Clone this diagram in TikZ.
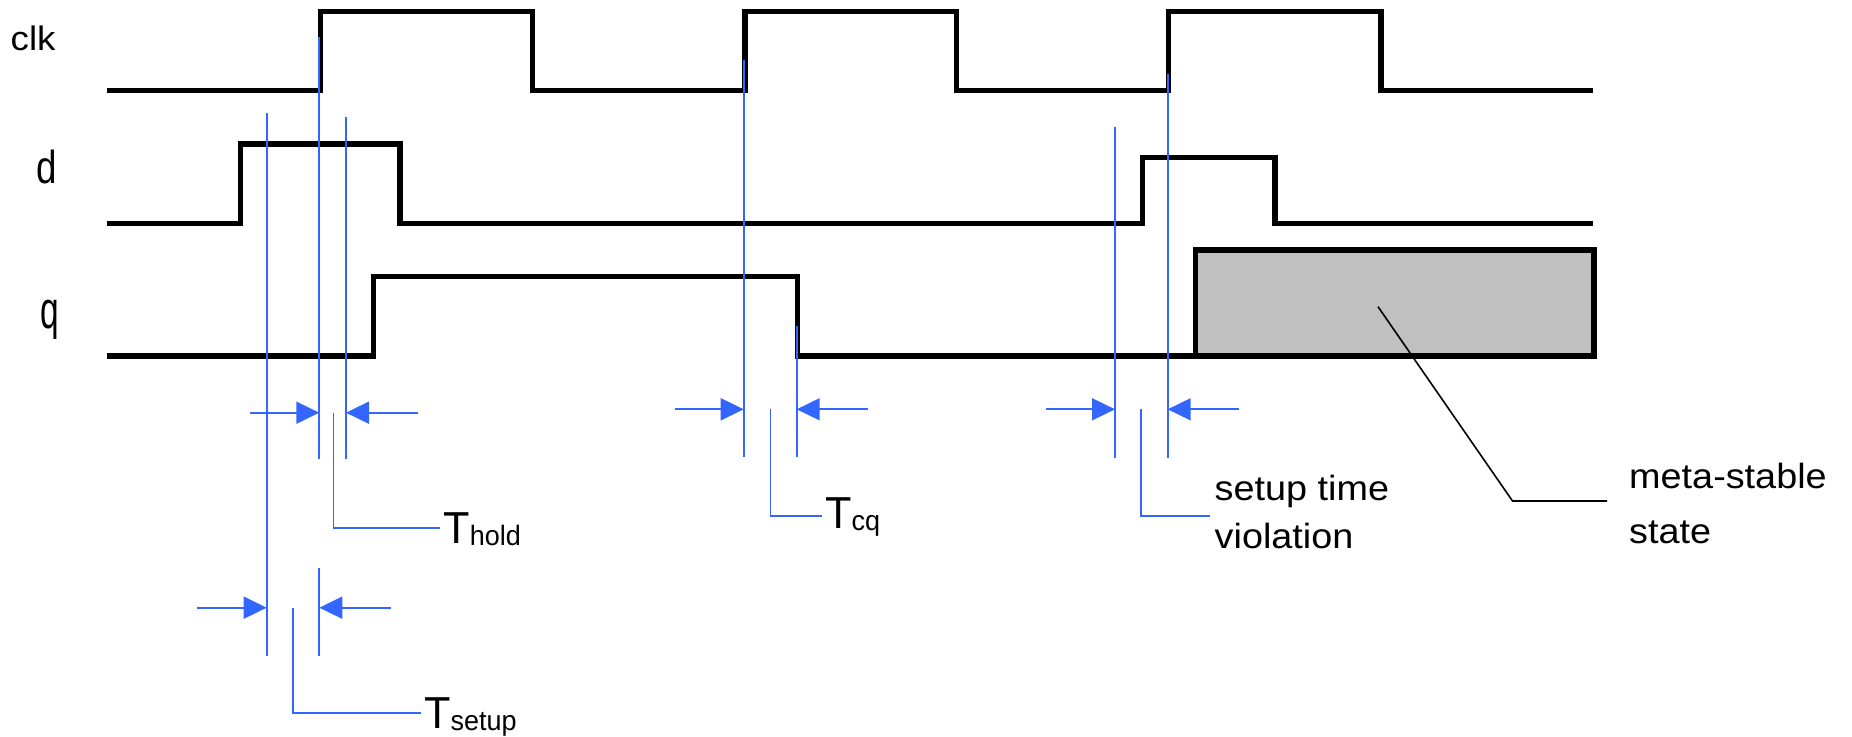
\documentclass[tikz,border=0pt]{standalone}
\usepackage{fontspec}
\setmainfont{Liberation Sans}[FakeStretch=1.08]
\usepackage{graphicx}
\usetikzlibrary{arrows.meta}
\definecolor{dimblue}{HTML}{3366FF}
\definecolor{metagray}{HTML}{C0C0C0}
\tikzset{
  sig/.style={line width=5.5pt, line join=miter, black},
  guide/.style={line width=1.8pt, dimblue},
  dimarrow/.style={guide, -{Triangle[length=23pt,width=22pt]}},
  lbl/.style={inner sep=0pt, anchor=base west, font=\fontsize{34}{34}\selectfont},
  note/.style={inner sep=0pt, anchor=base west, align=left, font=\fontsize{35}{48}\selectfont},
}
\newcommand{\tlabel}[1]{\scalebox{1}[1.12]{\fontsize{40}{40}\selectfont T\raisebox{-2pt}{\fontsize{25}{25}\selectfont #1}}}
\begin{document}
\begin{tikzpicture}[x=1pt,y=-1pt]
\useasboundingbox (0,0) rectangle (1852,736);
% signal names
\node[lbl] (clk) at (10.5,50.7) {clk};
\node[lbl] (d) at (36,183.3) {\scalebox{1}[1.36]{d}};
\node[lbl, font=\fontsize{31}{31}\selectfont] (q) at (40,328.3) {\scalebox{1}[1.7]{q}};
% waveforms
\draw[sig] (107,90.7) -| (320.7,11.7) -| (532.7,90.7) -| (745,11.7) -| (956.7,90.7) -| (1168.5,11.7) -| (1381,90.7) -- (1593,90.7);
\draw[sig] (107,223.3) -| (240.7,144) -| (400,223.3) -| (1142.5,157.3) -| (1275,223.3) -- (1593,223.3);
\draw[sig, fill=metagray] (1195.7,356) rectangle (1594,250);
\draw[sig] (107,356) -| (373.3,276.7) -| (797.3,356) -- (1594,356);
% guide lines
\draw[guide] (266.7,113.3) -- (266.7,656);
\draw[guide] (319.3,37.3) -- (319.3,459.3);
\draw[guide] (346,116.7) -- (346,459.3);
\draw[guide] (319.3,568.3) -- (319.3,656);
\draw[guide] (743.7,60) -- (743.7,457.3);
\draw[guide] (796.7,326) -- (796.7,457.3);
\draw[guide] (1115,127.3) -- (1115,457.7);
\draw[guide] (1167.7,74) -- (1167.7,457.7);
% dimension arrows
\draw[dimarrow] (250,412.7) -- (319.3,412.7);
\draw[dimarrow] (417.5,412.7) -- (346,412.7);
\draw[dimarrow] (196.7,607.7) -- (266.7,607.7);
\draw[dimarrow] (391,607.7) -- (319.3,607.7);
\draw[dimarrow] (675,409.3) -- (743.7,409.3);
\draw[dimarrow] (868.3,409.3) -- (796.7,409.3);
\draw[dimarrow] (1045.7,409.3) -- (1115,409.3);
\draw[dimarrow] (1239.3,409.3) -- (1167.7,409.3);
% labels and leaders
\node[lbl] (thold) at (443.3,543.3) {\tlabel{hold}};
\draw[guide] (333.5,412.7) |- (440,527.7);
\node[lbl] (tsetup) at (424,728.3) {\tlabel{setup}};
\draw[guide] (293.3,607.7) |- (420.7,713.3);
\node[lbl] (tcq) at (825,528.3) {\tlabel{cq}};
\draw[guide] (770.5,409.3) |- (822.3,515.7);
\node[note] (viol) at (1214.5,548.3) {setup time\\violation};
\draw[guide] (1141.3,409.3) |- (1210.3,515.7);
\node[note, font=\fontsize{35}{55}\selectfont] (meta) at (1629,543.3) {meta-stable\\state};
\draw[line width=1.6pt] (1378,306.7) -- (1512.5,501) -- (1607,501);
\end{tikzpicture}
\end{document}
